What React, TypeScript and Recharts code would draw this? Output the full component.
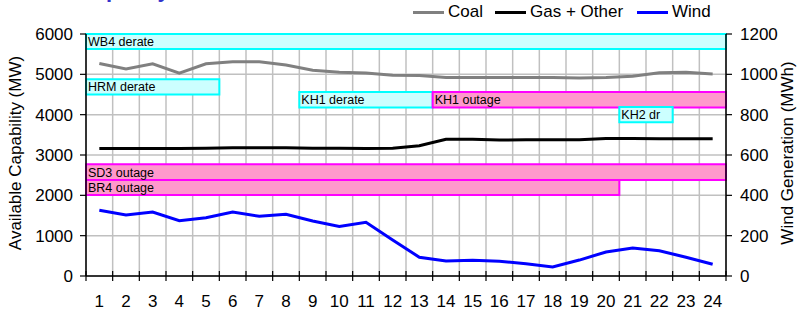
import React from 'react';
import { ComposedChart, Line, XAxis, YAxis, CartesianGrid, ReferenceArea } from 'recharts';

const HOURS = ['1', '2', '3', '4', '5', '6', '7', '8', '9', '10', '11', '12', '13', '14', '15', '16', '17', '18', '19', '20', '21', '22', '23', '24'];
const COAL = [5270, 5130, 5260, 5030, 5260, 5310, 5310, 5230, 5100, 5050, 5030, 4980, 4970, 4920, 4920, 4920, 4920, 4920, 4910, 4920, 4950, 5040, 5050, 5010];
const GAS_OTHER = [3160, 3160, 3160, 3160, 3170, 3180, 3180, 3180, 3170, 3170, 3160, 3170, 3230, 3390, 3390, 3370, 3380, 3380, 3380, 3410, 3410, 3400, 3400, 3400];
const WIND = [326, 302, 317, 274, 289, 317, 296, 306, 273, 245, 266, 179, 93, 74, 78, 73, 61, 45, 79, 119, 139, 125, 93, 58];

const MW_TICKS = [0, 1000, 2000, 3000, 4000, 5000, 6000];
const MWH_TICKS = [0, 200, 400, 600, 800, 1000, 1200];

// plant events: hour span and the MW band each label box sits in
const EVENT_LABELS = ['WB4 derate', 'HRM derate', 'KH1 derate', 'KH1 outage', 'KH2 dr', 'SD3 outage', 'BR4 outage'];
const EVENT_KIND = ['derate', 'derate', 'derate', 'outage', 'derate', 'outage', 'outage'];
const EVENT_FROM = ['1', '1', '9', '14', '21', '1', '1'];
const EVENT_TO = ['24', '5', '13', '24', '22', '24', '20'];
const EVENT_LOW = [5630, 4500, 4180, 4180, 3810, 2380, 2010];
const EVENT_HIGH = [6000, 4880, 4560, 4560, 4190, 2770, 2380];

const KIND_FILL: Record<string, string> = { derate: '#ccffff', outage: '#ff99cc' };
const KIND_STROKE: Record<string, string> = { derate: '#00ffff', outage: '#ff00ff' };

const W = 804;
const H = 314;
const PLOT_TOP = 34;
const PLOT_H = 242;
const LEFT_W = 86;
const RIGHT_W = 78;
const BAND = (W - LEFT_W - RIGHT_W) / HOURS.length;
const FONT = '"Liberation Sans", Arial, sans-serif';

const data = HOURS.map((hour, i) => ({ hour, coal: COAL[i], gas: GAS_OTHER[i], wind: WIND[i] }));

const HourTick = (props: any) => {
  const { x, y, payload, index } = props;
  const axisY = y - 19;
  const half = BAND / 2;
  return (
    <g>
      <line x1={x - half} x2={x - half} y1={axisY - 5} y2={axisY + 5} stroke="#000" strokeWidth={1.2} />
      {index === HOURS.length - 1 && (
        <line x1={x + half} x2={x + half} y1={axisY - 5} y2={axisY + 5} stroke="#000" strokeWidth={1.2} />
      )}
      <text x={x} y={y} dy="0.71em" textAnchor="middle" fontSize={17} fill="#000">
        {payload.value}
      </text>
    </g>
  );
};

const AxisTitle = ({ cx, value }: { cx: number; value: string }) => {
  const cy = 153;
  return (
    <text x={cx} y={cy} transform={`rotate(-90 ${cx} ${cy})`} textAnchor="middle" fontSize={17} fill="#000">
      {value}
    </text>
  );
};

const LEGEND = [
  { name: 'Coal', color: '#808080', left: 413 },
  { name: 'Gas + Other', color: '#000000', left: 495 },
  { name: 'Wind', color: '#0000ff', left: 637 },
];

const App: React.FC = () => {
  return (
    <div style={{ position: 'absolute', left: 0, top: 0, width: W, height: H, overflow: 'hidden', fontFamily: FONT, background: '#fff' }}>
      <div style={{ position: 'absolute', left: 78, top: -21, fontSize: 22, lineHeight: '22px', fontWeight: 'bold', color: '#3333cc' }}>
        Capacity
      </div>

      {LEGEND.map(item => (
        <div
          key={item.name}
          style={{ position: 'absolute', left: item.left, top: 0, height: 24, display: 'flex', alignItems: 'center', fontSize: 17, color: '#000', whiteSpace: 'nowrap' }}
        >
          <span style={{ display: 'inline-block', width: 31, height: 3, background: item.color, marginRight: 4 }} />
          <span>{item.name}</span>
        </div>
      ))}

      <ComposedChart width={W} height={H} data={data} margin={{ top: PLOT_TOP, right: 0, bottom: 0, left: 0 }}>
        <CartesianGrid
          yAxisId="left"
          stroke="#c0c0c0"
          strokeWidth={1.5}
          verticalCoordinatesGenerator={({ offset }: any) =>
            HOURS.map((_, i) => offset.left + i * (offset.width / HOURS.length)).concat(offset.left + offset.width)
          }
        />
        <XAxis
          dataKey="hour"
          scale="band"
          interval={0}
          height={H - PLOT_TOP - PLOT_H}
          tickLine={false}
          tickSize={5}
          tickMargin={14}
          tick={<HourTick />}
          axisLine={{ stroke: '#000', strokeWidth: 1.5 }}
        />
        <YAxis
          yAxisId="left"
          domain={[0, 6000]}
          ticks={MW_TICKS}
          interval={0}
          width={LEFT_W}
          tickSize={6}
          tickMargin={7}
          tick={{ fill: '#000', fontSize: 17 }}
          tickLine={{ stroke: '#000', strokeWidth: 1.2 }}
          axisLine={{ stroke: '#000', strokeWidth: 1.5 }}
          label={<AxisTitle cx={21} value="Available Capability (MW)" />}
        />
        <YAxis
          yAxisId="right"
          orientation="right"
          domain={[0, 1200]}
          ticks={MWH_TICKS}
          interval={0}
          width={RIGHT_W}
          tickSize={6}
          tickMargin={8}
          tick={{ fill: '#000', fontSize: 17 }}
          tickLine={{ stroke: '#000', strokeWidth: 1.2 }}
          axisLine={{ stroke: '#000', strokeWidth: 1.5 }}
          label={<AxisTitle cx={793} value="Wind Generation (MWh)" />}
        />

        {EVENT_LABELS.map((label, i) => (
          <ReferenceArea
            key={label}
            yAxisId="left"
            x1={EVENT_FROM[i]}
            x2={EVENT_TO[i]}
            y1={EVENT_LOW[i]}
            y2={EVENT_HIGH[i]}
            fill={KIND_FILL[EVENT_KIND[i]]}
            fillOpacity={1}
            stroke={KIND_STROKE[EVENT_KIND[i]]}
            strokeWidth={2}
            label={{ value: label, position: 'insideLeft', offset: 2, fontSize: 12.5, fill: '#000' }}
          />
        ))}

        <Line yAxisId="left" dataKey="coal" name="Coal" stroke="#808080" strokeWidth={3} dot={false} isAnimationActive={false} />
        <Line yAxisId="left" dataKey="gas" name="Gas + Other" stroke="#000000" strokeWidth={3} dot={false} isAnimationActive={false} />
        <Line yAxisId="right" dataKey="wind" name="Wind" stroke="#0000ff" strokeWidth={3} dot={false} isAnimationActive={false} />
      </ComposedChart>
    </div>
  );
};

export default App;
